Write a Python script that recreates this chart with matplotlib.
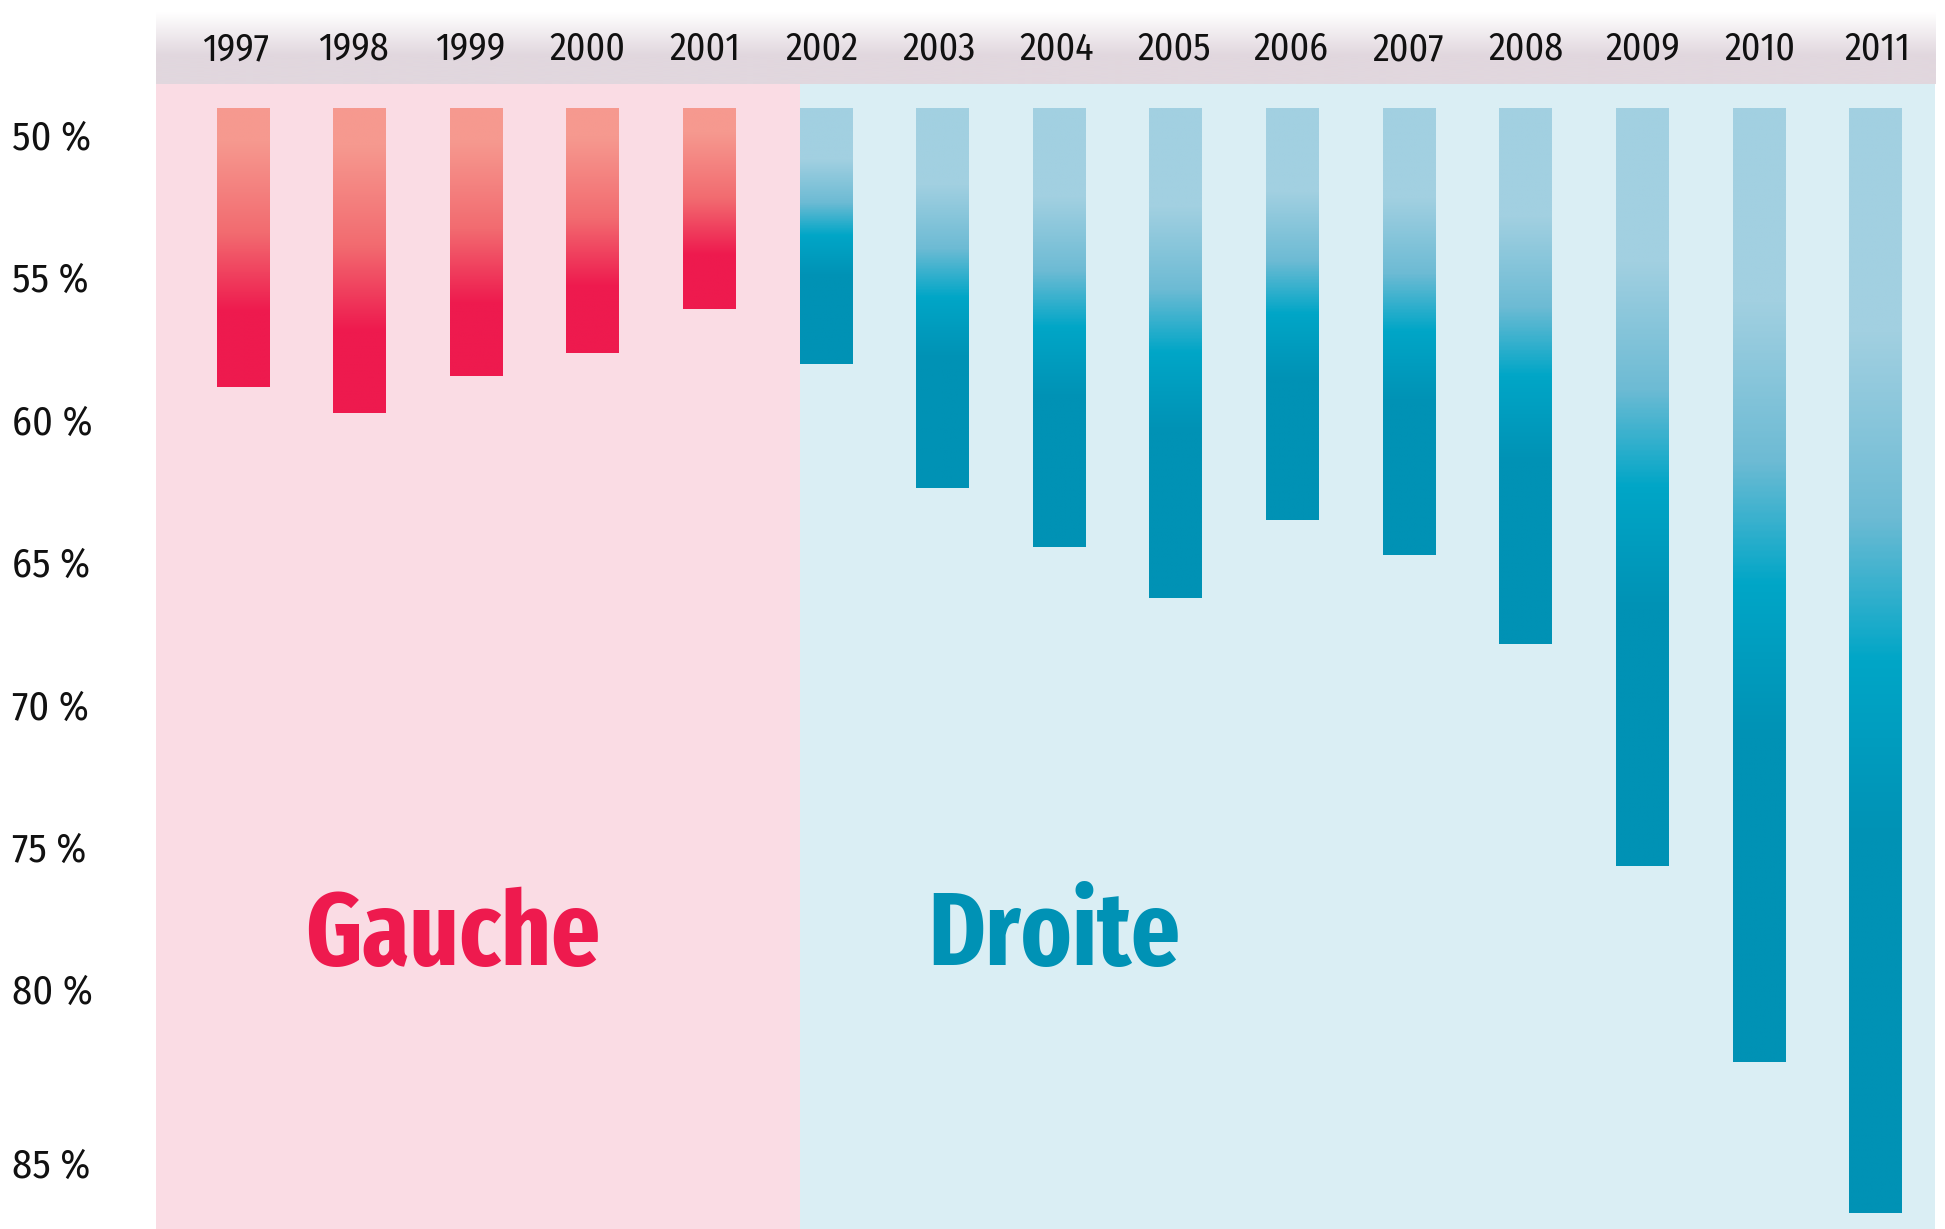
import numpy as np
import matplotlib
matplotlib.use("Agg")
import matplotlib.pyplot as plt
import matplotlib.transforms as mtrans
from matplotlib import font_manager as fm
from matplotlib.colors import LinearSegmentedColormap
from matplotlib.patches import Rectangle

# ---- data ----
years = ["1997", "1998", "1999", "2000", "2001", "2002", "2003", "2004",
         "2005", "2006", "2007", "2008", "2009", "2010", "2011"]
values = [58.8, 59.7, 58.4, 57.6, 56.05, 58.0, 62.35, 64.4,
          66.2, 63.45, 64.7, 67.8, 75.6, 82.5, 87.8]
camp = ["Gauche"] * 5 + ["Droite"] * 10
tick_values = [50, 55, 60, 65, 70, 75, 80, 86.1]
tick_labels = ["50 %", "55 %", "60 %", "65 %", "70 %", "75 %", "80 %", "85 %"]
base_value = 49.0

# ---- fonts ----
available = {f.name for f in fm.fontManager.ttflist}


def pick(cands):
    for c in cands:
        if c in available:
            return c
    return "DejaVu Sans"


REG = pick(["Ubuntu Condensed", "Fira Sans Condensed", "Roboto Condensed",
            "PT Sans Narrow", "Encode Sans Condensed", "Barlow Condensed",
            "IBM Plex Sans Condensed", "Open Sans Condensed",
            "Liberation Sans Narrow"])
BOLD = pick(["Fira Sans Extra Condensed", "Saira Extra Condensed",
             "Saira Condensed", "Barlow Condensed", "Roboto Condensed",
             "Fira Sans Condensed", "PT Sans Narrow", "Open Sans Condensed",
             "IBM Plex Sans Condensed"])
FONT = [REG, "DejaVu Sans"]
BFONT = [BOLD, "DejaVu Sans"]
plt.rcParams["font.family"] = FONT

PINK_BG = "#FADCE4"
BLUE_BG = "#DAEEF4"
HEADER = "#E1D7DE"
RED = "#EE1A4E"
BLUE_TXT = "#0092B5"

red_cmap = LinearSegmentedColormap.from_list(
    "red", [(0, "#F6998F"), (0.12, "#F6998F"), (0.45, "#F26B70"),
            (0.73, "#EE1A4E"), (1, "#EE1A4E")])
blue_cmap = LinearSegmentedColormap.from_list(
    "blue", [(0, "#A2D0E1"), (0.2, "#A2D0E1"), (0.37, "#6DBBD4"),
             (0.50, "#00A6C7"), (0.66, "#0092B5"), (1, "#0092B5")])

W, H = 1945, 1229
fig = plt.figure(figsize=(W / 100, H / 100), dpi=100)
renderer = fig.canvas.get_renderer()


def size_for_width(text, family, target_px, weight="normal", ref=27):
    t = fig.text(0, 0, text, fontsize=ref, family=family, fontweight=weight)
    w = t.get_window_extent(renderer).width
    t.remove()
    return ref * target_px / w if w > 0 else ref


left_px, right_px = 156, 1935
top_px = 84
ax = fig.add_axes([left_px / W, 0, (right_px - left_px) / W, 1 - top_px / H])

n = len(years)
x = np.arange(n)
bw = 0.452
x0 = -0.745
x1 = 14.51
ylo, yhi = 88.35, 48.16
ax.set_xlim(x0, x1)
ax.set_ylim(ylo, yhi)

split = 5 - bw / 2
ax.add_patch(Rectangle((x0, 40), split - x0, 60, color=PINK_BG, zorder=0, lw=0))
ax.add_patch(Rectangle((split, 40), x1 - split, 60, color=BLUE_BG, zorder=0, lw=0))

grad = np.linspace(0, 1, 400).reshape(-1, 1)
bars = ax.bar(x, [v - base_value for v in values], bottom=base_value,
              width=bw, color="none", edgecolor="none", zorder=2)
for i, (b, v) in enumerate(zip(bars, values)):
    cmap = red_cmap if camp[i] == "Gauche" else blue_cmap
    im = ax.imshow(grad, cmap=cmap, aspect="auto", origin="upper",
                   extent=[x[i] - bw / 2, x[i] + bw / 2, v, base_value],
                   zorder=3, interpolation="bilinear")
    im.set_clip_path(b)

ax.set_xlim(x0, x1)
ax.set_ylim(ylo, yhi)
for s in ax.spines.values():
    s.set_visible(False)
ax.set_xticks([])
ax.set_yticks([])

# y labels placed at tick values
ysize = size_for_width("50 %", FONT, 79)
ytrans = mtrans.blended_transform_factory(fig.transFigure, ax.transData)
for tv, tl in zip(tick_values, tick_labels):
    fig.text(12 / W, tv + 0.08, tl, ha="left", va="center", fontsize=ysize,
             family=FONT, color="#111111", transform=ytrans)

gsize = size_for_width("Gauche", BFONT, 294, weight="bold")
ax.text(0.536, 79.08, "Gauche", color=RED, fontsize=gsize, fontweight="bold",
        family=BFONT, ha="left", va="baseline", zorder=4)
ax.text(5.88, 79.08, "Droite", color=BLUE_TXT, fontsize=gsize,
        fontweight="bold", family=BFONT, ha="left", va="baseline", zorder=4)

# header band
hdr_top_px = 12
hax = fig.add_axes([left_px / W, 1 - top_px / H, (right_px - left_px) / W,
                    (top_px - hdr_top_px) / H])
hcmap = LinearSegmentedColormap.from_list(
    "hdr", [(0, "#FFFFFF"), (0.6, HEADER), (1, HEADER)])
hax.imshow(grad, cmap=hcmap, aspect="auto", extent=[x0, x1, 1, 0],
           interpolation="bilinear")
hax.set_xlim(x0, x1)
hax.set_ylim(1, 0)
hax.axis("off")
yrsize = size_for_width("2008", FONT, 75)
for xi, yr in zip(x, years):
    hax.text(xi * 1.0055 - 0.06, 0.52, yr, ha="center", va="center",
             fontsize=yrsize, family=FONT, color="#111111")

fig.savefig("out.png", dpi=100, facecolor="white")
